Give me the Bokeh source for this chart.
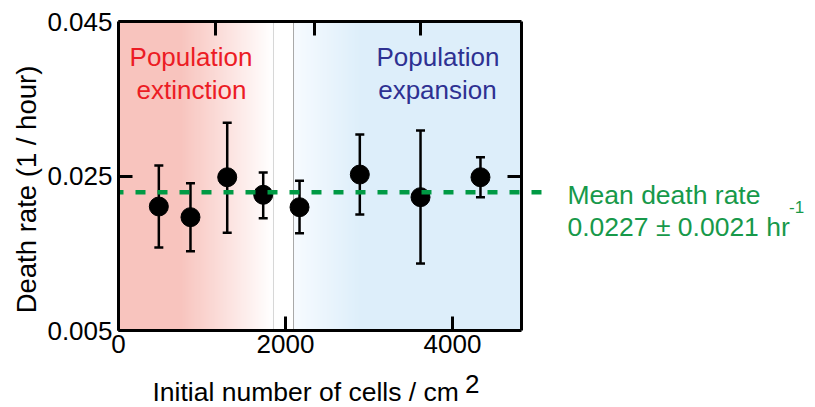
import numpy as np
from bokeh.plotting import figure
from bokeh.models import (Range1d, LinearAxis, FixedTicker, PrintfTickFormatter,
                          Whisker, TeeHead, ColumnDataSource, Label)
from bokeh.embed import file_html
from bokeh.resources import INLINE

# ---------------- data ----------------
cells = [483, 862, 1302, 1733, 2168, 2890, 3617, 4335]
rate = [0.02105, 0.01967, 0.02484, 0.02257, 0.02096, 0.02519, 0.02226, 0.02484]
rate_upper = [0.02636, 0.02407, 0.03189, 0.02545, 0.02438, 0.03037, 0.03089, 0.02743]
rate_lower = [0.01574, 0.01527, 0.01765, 0.01954, 0.01760, 0.02002, 0.01367, 0.02226]
mean_rate = 0.0229
x_ticks = [0, 2000, 4000]
y_ticks = [0.005, 0.025, 0.045]
top_ticks = [1160, 2350, 3620]
right_ticks = [0.025]
extinction_edge = 1856
expansion_edge = 2096
x_box_max = 4826
mean_line_end = 5198

# ---------------- style ----------------
FONT = "Liberation Sans"
RED = "#ec1c24"
BLUE = "#2e3192"
GREEN = "#009a44"
GREEN_TXT = "#17994a"
Y_MIN, Y_MAX = 0.005, 0.045
PX_X = 0.0835      # pixels per x unit
PX_Y = 7725.0      # pixels per y unit
W, H = 815, 407
LEFT, TOP = 118, 21

x0 = -LEFT / PX_X
x1 = (W - LEFT) / PX_X
y1 = Y_MAX + TOP / PX_Y
y0 = Y_MAX - (H - TOP) / PX_Y

p = figure(width=W, height=H, output_backend="svg", toolbar_location=None,
           x_range=Range1d(x0, x1), y_range=Range1d(y0, y1),
           x_axis_type=None, y_axis_type=None,
           min_border_left=0, min_border_right=0, min_border_top=0, min_border_bottom=0)
p.outline_line_color = None
p.background_fill_color = "white"
p.border_fill_color = "white"

# background gradients
def band(n, c0, c1, t0, t1):
    t = (np.arange(n) + 0.5) / n
    f = np.clip((t - t0) / (t1 - t0), 0, 1)[:, None]
    rgb = np.array(c0, float) * (1 - f) + np.array(c1, float) * f
    img = np.empty((1, n), dtype=np.uint32)
    v = img.view(dtype=np.uint8).reshape((1, n, 4))
    v[0, :, :3] = np.round(rgb).astype(np.uint8)
    v[0, :, 3] = 255
    return img

red_img = band(300, (248, 196, 190), (255, 255, 255), 0.40, 0.985)
blue_img = band(300, (247, 251, 255), (221, 238, 250), 0.0, 0.30)
p.image_rgba(image=[red_img], x=0, y=Y_MIN, dw=extinction_edge, dh=Y_MAX - Y_MIN, level="image")
p.image_rgba(image=[blue_img], x=expansion_edge, y=Y_MIN, dw=x_box_max - expansion_edge,
             dh=Y_MAX - Y_MIN, level="image")

p.segment(x0=[extinction_edge, expansion_edge], x1=[extinction_edge, expansion_edge],
          y0=[Y_MIN, Y_MIN], y1=[Y_MAX, Y_MAX], line_color=["#d6d6d6", "#a8a8a8"],
          line_width=1, level="underlay")

# axes (fixed at the box edges)
common = dict(axis_line_width=3, axis_line_color="black", major_tick_in=14, major_tick_out=0,
              major_tick_line_width=3, major_tick_line_color="black",
              minor_tick_line_color=None, major_label_text_font=FONT,
              major_label_text_font_size="26px", major_label_text_color="black")
hidden = dict(common)
hidden["major_label_text_font_size"] = "0px"
hidden["major_label_text_color"] = None

xaxis = LinearAxis(ticker=FixedTicker(ticks=x_ticks), bounds=(0, x_box_max),
                   fixed_location=Y_MIN, major_label_standoff=4, **common)
p.add_layout(xaxis, "below")
yaxis = LinearAxis(ticker=FixedTicker(ticks=y_ticks), formatter=PrintfTickFormatter(format="%.3f"),
                   bounds=(Y_MIN, Y_MAX), fixed_location=0, major_label_standoff=6, **common)
p.add_layout(yaxis, "left")
taxis = LinearAxis(ticker=FixedTicker(ticks=top_ticks), bounds=(0, x_box_max),
                   fixed_location=Y_MAX, major_label_standoff=0, **hidden)
p.add_layout(taxis, "above")
raxis = LinearAxis(ticker=FixedTicker(ticks=right_ticks), bounds=(Y_MIN, Y_MAX),
                   fixed_location=x_box_max, major_label_standoff=0, **hidden)
p.add_layout(raxis, "right")

# data
src = ColumnDataSource(dict(cells=cells, rate=rate, upper=rate_upper, lower=rate_lower))
p.add_layout(Whisker(source=src, base="cells", upper="upper", lower="lower",
                     line_color="black", line_width=2.5,
                     upper_head=TeeHead(size=9, line_width=2.5, line_color="black"),
                     lower_head=TeeHead(size=9, line_width=2.5, line_color="black")))
p.scatter("cells", "rate", source=src, size=19, color="black")

p.segment(x0=[0], x1=[mean_line_end], y0=[mean_rate], y1=[mean_rate],
          line_color=GREEN, line_width=4.5, line_dash="10 12", line_dash_offset=5)

# texts
def lab(x, y, text, color="black", size="26px", align="left", angle=0):
    p.add_layout(Label(x=x, y=y, text=text, text_color=color, text_font=FONT,
                       text_font_size=size, text_align=align, text_baseline="alphabetic",
                       angle=angle))

lab(868, 0.0404, "Population", RED, align="center")
lab(874, 0.03613, "extinction", RED, align="center")
lab(3826, 0.0404, "Population", BLUE, align="center")
lab(3820, 0.03613, "expansion", BLUE, align="center")
lab(5377, 0.02254, "Mean death rate", GREEN_TXT, size="26.5px")
lab(5377, 0.0184, "0.0227 \u00b1 0.0021 hr", GREEN_TXT, size="26.5px")
lab(8030, 0.02099, "-1", GREEN_TXT, size="17px")
lab(407, -0.00302, "Initial number of cells / cm", size="26.5px")
lab(4150, -0.00196, "2")
lab(-1096, 0.02325, "Death rate (1 / hour)", align="center", angle=np.pi / 2, size="27.5px")

open("out.html", "w").write(file_html(p, INLINE))
